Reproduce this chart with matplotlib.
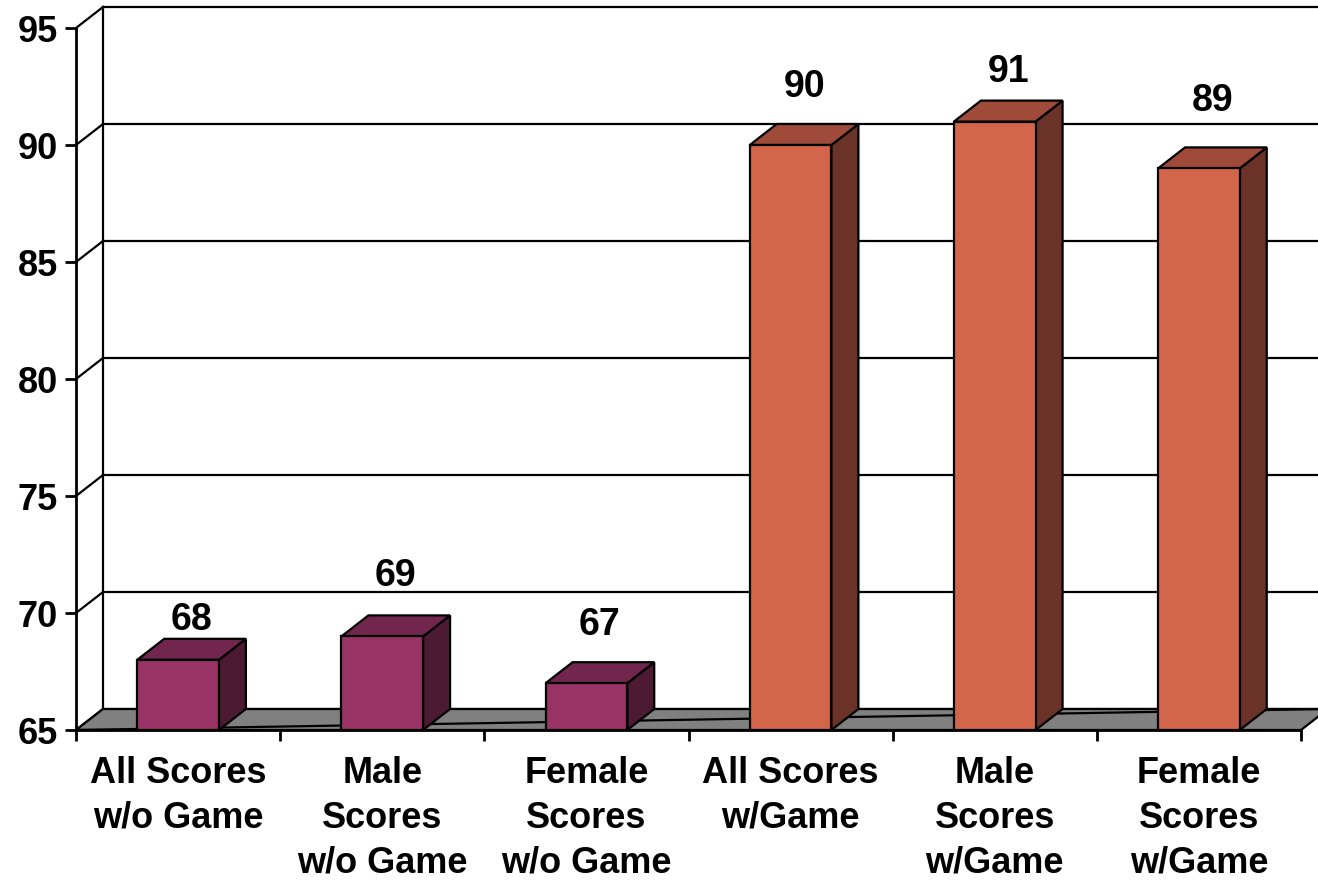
import matplotlib.pyplot as plt
from matplotlib.patches import Polygon, Rectangle

# scores with and without the game
categories = ['All Scores\nw/o Game', 'Male\nScores\nw/o Game', 'Female\nScores\nw/o Game',
              'All Scores\nw/Game', 'Male\nScores\nw/Game', 'Female\nScores\nw/Game']
scores = [68, 69, 67, 90, 91, 89]
y_ticks = [65, 70, 75, 80, 85, 90, 95]

# colours: front, top, side
purple = ('#993366', '#73264D', '#4D1A33')
orange = ('#D3654A', '#A04B39', '#6B3327')
bar_colours = [purple, purple, purple, orange, orange, orange]

# small nudge of the value labels above each bar
label_nudge = [1.7, 2.6, 2.5, 2.5, 2.1, 2.9]

plt.rcParams['font.family'] = ['Liberation Sans', 'DejaVu Sans']
plt.rcParams['font.weight'] = 'bold'

fig = plt.figure(figsize=(13.18, 8.8), dpi=100)
ax = fig.add_axes([76 / 1318, 150 / 880, 1225 / 1318, 702 / 880])
ax.set_xlim(0, 6)
ax.set_ylim(65, 95)

# depth of the fake 3d box, in data units
dx = 27 / 204.2
dy = 21 / 23.4
base = y_ticks[0]
lw = 1.6

# back wall and left wall
for v in y_ticks:
    ax.plot([dx, 6 + dx + 0.5], [v + dy, v + dy], color='black', lw=lw, zorder=1, clip_on=False)
    ax.plot([0, dx], [v, v + dy], color='black', lw=lw, zorder=1, clip_on=False)
ax.plot([dx, dx], [base + dy, y_ticks[-1] + dy], color='black', lw=lw, zorder=1, clip_on=False)

# floor
floor = Polygon([(0, base), (6, base), (6 + dx, base + dy), (dx, base + dy)],
                closed=True, facecolor='#808080', edgecolor='black', lw=lw, zorder=2, clip_on=False)
ax.add_patch(floor)
ax.plot([0, 6 + dx], [base, base + dy], color='black', lw=lw, zorder=2, clip_on=False)

# bars
w = 0.40
for i, (v, c) in enumerate(zip(scores, bar_colours)):
    x0 = i + 0.5 - w / 2
    x1 = i + 0.5 + w / 2
    front = Rectangle((x0, base), w, v - base, facecolor=c[0], edgecolor='black', lw=lw, zorder=4)
    top = Polygon([(x0, v), (x1, v), (x1 + dx, v + dy), (x0 + dx, v + dy)], closed=True,
                  facecolor=c[1], edgecolor='black', lw=lw, zorder=3)
    side = Polygon([(x1, base), (x1 + dx, base + dy), (x1 + dx, v + dy), (x1, v)], closed=True,
                   facecolor=c[2], edgecolor='black', lw=lw, zorder=3)
    ax.add_patch(side)
    ax.add_patch(top)
    ax.add_patch(front)
    ax.text(i + 0.5 + dx / 2, v + label_nudge[i], str(v), ha='center', va='center',
            fontsize=27, fontweight='bold', zorder=6, clip_on=False)

# axes
for s in ['top', 'right']:
    ax.spines[s].set_visible(False)
for s in ['left', 'bottom']:
    ax.spines[s].set_linewidth(2)
    ax.spines[s].set_zorder(5)

ax.set_yticks(y_ticks)
ax.set_yticklabels([str(t) for t in y_ticks], fontsize=26, fontweight='bold')
ax.set_xticks(range(7))
ax.set_xticklabels([])
ax.set_xticks([i + 0.5 for i in range(6)], categories, minor=True,
              fontsize=26, fontweight='bold', linespacing=1.35)
ax.tick_params(axis='y', length=8, width=2, pad=5)
ax.tick_params(axis='x', which='major', length=8, width=2)
ax.tick_params(axis='x', which='minor', length=0, pad=19)
ax.patch.set_visible(False)

plt.savefig('out.png', dpi=100)
